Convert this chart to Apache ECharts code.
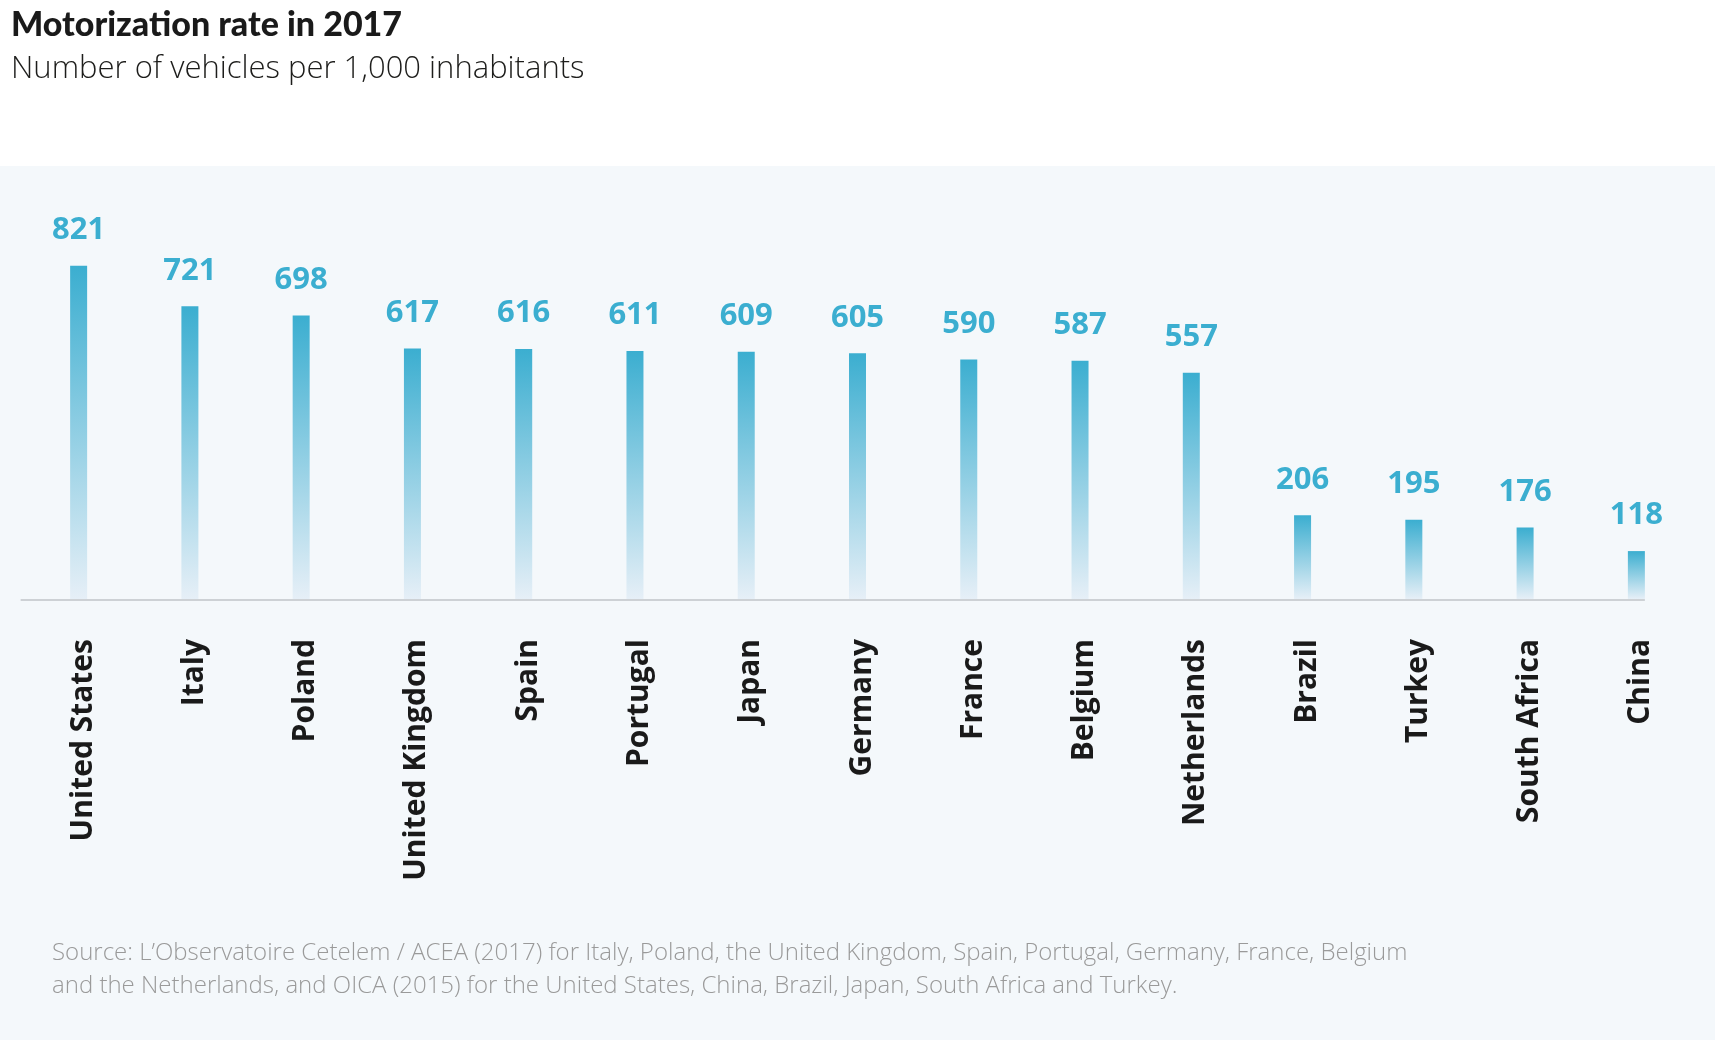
<!DOCTYPE html>
<html>
<head>
<meta charset="utf-8">
<script src="https://cdn.jsdelivr.net/npm/echarts@6/dist/echarts.min.js"></script>
<style>
  html, body { margin: 0; padding: 0; background: #ffffff; }
  #chart { width: 1715px; height: 1040px; }
</style>
</head>
<body>
<div id="chart"></div>
<script>
const categories = ['United States', 'Italy', 'Poland', 'United Kingdom', 'Spain', 'Portugal', 'Japan', 'Germany', 'France', 'Belgium', 'Netherlands', 'Brazil', 'Turkey', 'South Africa', 'China'];
const vehiclesPer1000 = [821, 721, 698, 617, 616, 611, 609, 605, 590, 587, 557, 206, 195, 176, 118];
const titleText = 'Motorization rate in 2017';
const subtitleText = 'Number of vehicles per 1,000 inhabitants';
const sourceText = 'Source: L\u2019Observatoire Cetelem / ACEA (2017) for Italy, Poland, the United Kingdom, Spain, Portugal, Germany, France, Belgium\nand the Netherlands, and OICA (2015) for the United States, China, Brazil, Japan, South Africa and Turkey.';

const chart = echarts.init(document.getElementById('chart'), null, { renderer: 'canvas' });
const BAR_W = 17;

const option = {
  backgroundColor: '#ffffff',
  animation: false,
  graphic: [
    { type: 'rect', z: -10, silent: true, shape: { x: 0, y: 166, width: 1715, height: 874 }, style: { fill: '#F4F8FB' } }
  ],
  title: [
    { text: titleText, left: 6, top: 3, textStyle: { fontFamily: 'Lato', fontWeight: 900, fontSize: 34, color: '#1a1a1a' } },
    { text: subtitleText, left: 6, top: 49, textStyle: { fontFamily: 'Open Sans', fontWeight: 300, fontSize: 31, color: '#1d1d1b' } },
    { text: sourceText, left: 47, top: 932, textStyle: { fontFamily: 'Open Sans', fontWeight: 300, fontSize: 24, lineHeight: 33, color: '#9a9a9a' } }
  ],
  grid: { left: 23, right: 23, top: 193, bottom: 441, containLabel: false },
  xAxis: {
    type: 'category',
    data: categories,
    boundaryGap: true,
    axisLine: { show: false },
    axisTick: { show: false },
    axisLabel: {
      rotate: 90,
      margin: 40,
      interval: 0,
      verticalAlign: 'top',
      lineHeight: 9,
      fontFamily: 'Open Sans',
      fontWeight: 700,
      fontSize: 30,
      color: '#1a1a1a'
    }
  },
  yAxis: {
    type: 'value',
    min: 0,
    max: 1000,
    show: false,
    splitLine: { show: false }
  },
  series: [{
    type: 'bar',
    data: vehiclesPer1000,
    barWidth: BAR_W,
    itemStyle: {
      color: new echarts.graphic.LinearGradient(0, 0, 0, 1, [
        { offset: 0, color: '#3BAED0' },
        { offset: 1, color: '#E6EFF7' }
      ])
    },
    label: {
      show: true,
      position: 'top',
      distance: 20,
      fontFamily: 'Open Sans',
      fontWeight: 700,
      fontSize: 31,
      color: '#3BAED0'
    }
  }]
};
chart.setOption(option);

// baseline decoration placed through the library's scales
const y0 = chart.convertToPixel({ yAxisIndex: 0 }, 0);
const xFirst = chart.convertToPixel({ xAxisIndex: 0 }, categories[0]);
const xLast = chart.convertToPixel({ xAxisIndex: 0 }, categories[categories.length - 1]);
chart.setOption({
  graphic: [
    { type: 'rect', z: -10, silent: true, shape: { x: 0, y: 166, width: 1715, height: 874 }, style: { fill: '#F4F8FB' } },
    { type: 'line', z: 10, silent: true, shape: { x1: xFirst - 58, y1: y0 + 1, x2: xLast + BAR_W / 2, y2: y0 + 1 }, style: { stroke: '#CDD1D5', lineWidth: 2 } }
  ]
});
</script>
</body>
</html>
